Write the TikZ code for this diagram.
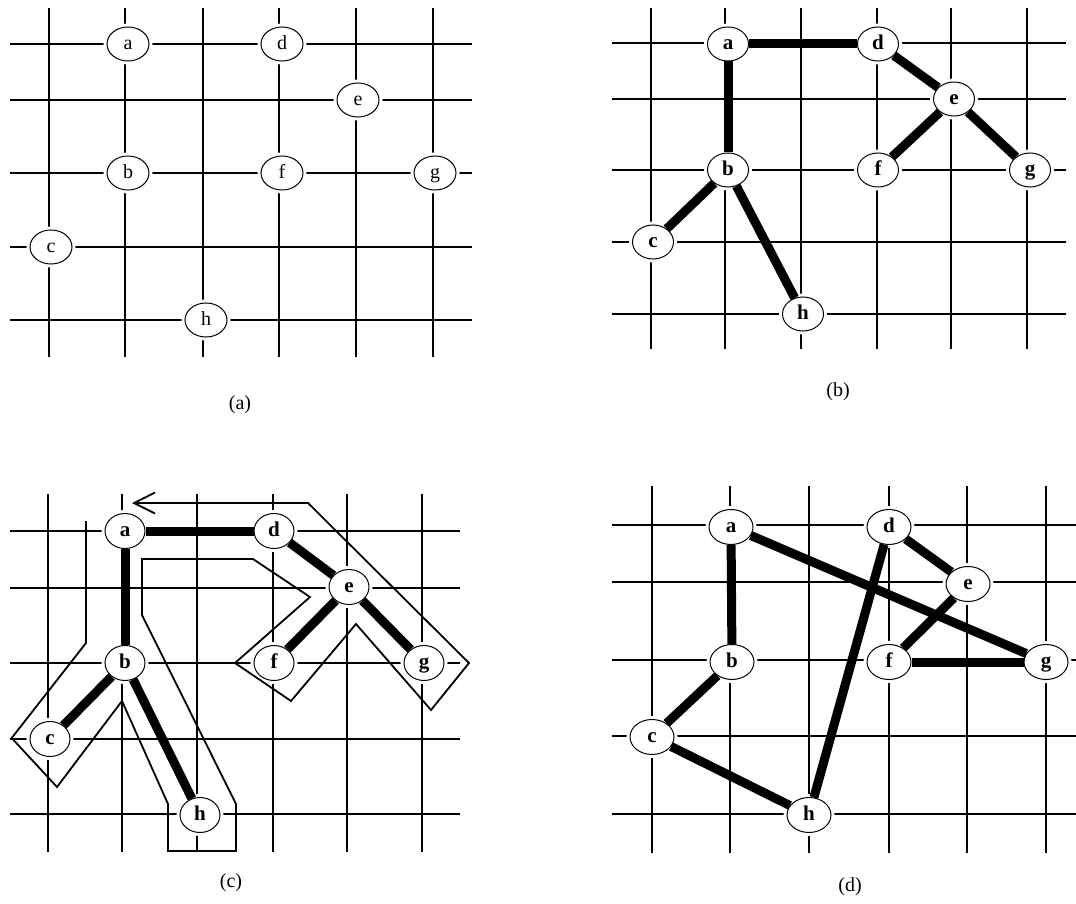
\documentclass[tikz,border=0pt]{standalone}
\usepackage{fontspec}
\setmainfont{Liberation Serif}
\usetikzlibrary{arrows.meta,shapes.geometric}
\begin{document}
\begin{tikzpicture}[x=1pt,y=-1pt,
  gridline/.style={line width=1.2pt},
  vtx/.style={ellipse, draw, line width=1pt, fill=white, inner sep=0pt,
    minimum width=42pt, minimum height=34pt,
    text height=11pt, text depth=0pt,
    font=\fontsize{20}{22}\selectfont,
    preaction={draw=white, line width=7pt}},
  bvtx/.style={vtx, font=\fontsize{21}{23}\selectfont\bfseries},
  tedge/.style={line width=9pt},
  contour/.style={line width=1.8pt, line join=miter},
  captxt/.style={font=\fontsize{20}{22}\selectfont, inner sep=0pt}
]
\useasboundingbox (0,0) rectangle (1076,904);
\fill[white] (0,0) rectangle (1076,904);

% ---------------- panel (a) ----------------
\foreach \x in {49,125,203,279,356,433} \draw[gridline] (\x,8) -- (\x,357);
\foreach \y in {44,100,173,247,320} \draw[gridline] (10,\y) -- (472,\y);
\node[vtx] (a1) at (128,44) {a};
\node[vtx] (d1) at (282,44) {d};
\node[vtx] (e1) at (358,100) {e};
\node[vtx] (b1) at (128,173) {b};
\node[vtx] (f1) at (282,173) {f};
\node[vtx] (g1) at (435,173) {g};
\node[vtx] (c1) at (51,247) {c};
\node[vtx] (h1) at (206,320) {h};
\node[captxt] (capa) at (240,405) {(a)};

% ---------------- panel (b) ----------------
\foreach \x in {651,725,801,877,951,1027} \draw[gridline] (\x,8) -- (\x,349);
\foreach \y in {43,99,170,242,314} \draw[gridline] (612,\y) -- (1066,\y);
\begin{scope}[every node/.style={bvtx, minimum width=41pt}]
\node (a2) at (728,44) {a};
\node (d2) at (878,44) {d};
\node (e2) at (954,99) {e};
\node (b2) at (728,170) {b};
\node (f2) at (878,170) {f};
\node (g2) at (1030,170) {g};
\node (c2) at (653,242) {c};
\node (h2) at (803,314) {h};
\end{scope}
\draw[tedge] (a2) -- (d2);
\draw[tedge] (a2) -- (b2);
\draw[tedge] (d2) -- (e2);
\draw[tedge] (e2) -- (f2);
\draw[tedge] (e2) -- (g2);
\draw[tedge] (b2) -- (c2);
\draw[tedge] (b2) -- (h2);
\node[captxt] (capb) at (838,392) {(b)};

% ---------------- panel (c) ----------------
\foreach \x in {48,122,197,273,347,422} \draw[gridline] (\x,494) -- (\x,852);
\foreach \y in {531,588,663,739,814} \draw[gridline] (10,\y) -- (460,\y);
\begin{scope}[every node/.style={bvtx, minimum width=40pt, minimum height=35pt}]
\node (a3) at (125,531) {a};
\node (d3) at (274,531) {d};
\node (e3) at (349,587) {e};
\node (b3) at (125,663) {b};
\node (f3) at (274,663) {f};
\node (g3) at (424,663) {g};
\node (c3) at (50,739) {c};
\node (h3) at (200,815) {h};
\end{scope}
\draw[tedge] (a3) -- (d3);
\draw[tedge] (a3) -- (b3);
\draw[tedge] (d3) -- (e3);
\draw[tedge] (e3) -- (f3);
\draw[tedge] (e3) -- (g3);
\draw[tedge] (b3) -- (c3);
\draw[tedge] (b3) -- (h3);
\coordinate (cstart) at (86,521);
\coordinate (cend) at (132,503);
\draw[contour, -{Straight Barb[length=21pt,width=21pt,line width=1.8pt]}]
  (cstart) -- (86,643) -- (11.7,738) -- (57,787) -- (122,701) -- (168,804)
  -- (168,851) -- (236,851) -- (236,804) -- (142,615) -- (142,559)
  -- (253,559) -- (310,597) -- (235,663) -- (291,701) -- (356,624)
  -- (431,710) -- (469,663) -- (308,503) -- (cend);
\node[captxt] (capc) at (231,883) {(c)};

% ---------------- panel (d) ----------------
\foreach \x in {652,730,809,889,967,1046} \draw[gridline] (\x,486) -- (\x,853);
\foreach \y in {525,582,660,736,814} \draw[gridline] (612,\y) -- (1076,\y);
\begin{scope}[every node/.style={bvtx, minimum width=44pt, minimum height=35pt}]
\node (a4) at (731,527) {a};
\node (d4) at (889,527) {d};
\node (e4) at (968,584) {e};
\node (b4) at (732,662) {b};
\node (f4) at (889,662) {f};
\node (g4) at (1046,662) {g};
\node (c4) at (652,737) {c};
\node (h4) at (809,815) {h};
\end{scope}
\draw[tedge] (a4) -- (b4);
\draw[tedge] (a4) -- (g4);
\draw[tedge] (d4) -- (e4);
\draw[tedge] (d4) -- (h4);
\draw[tedge] (e4) -- (f4);
\draw[tedge] (f4) -- (g4);
\draw[tedge] (b4) -- (c4);
\draw[tedge] (c4) -- (h4);
\node[captxt] (capd) at (850,887) {(d)};
\end{tikzpicture}
\end{document}
